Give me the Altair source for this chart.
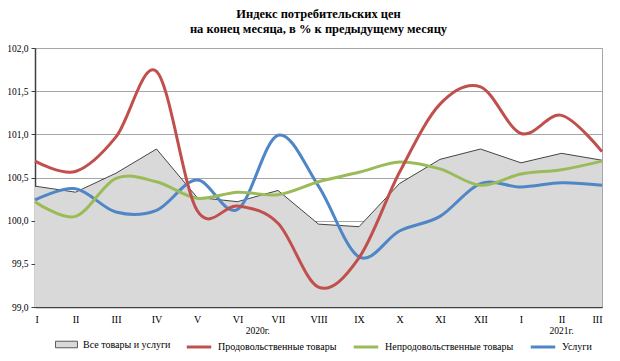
import altair as alt
import pandas as pd

months = ["I", "II", "III", "IV", "V", "VI", "VII", "VIII", "IX", "X", "XI", "XII", "I", "II", "III"]
series_names = ["Все товары и услуги", "Продовольственные товары", "Непродовольственные товары", "Услуги"]

all_goods = [100.40, 100.33, 100.55, 100.83, 100.27, 100.22, 100.35, 99.96, 99.93, 100.43, 100.71, 100.83, 100.67, 100.78, 100.70]
food = [100.69, 100.57, 100.97, 101.73, 100.12, 100.17, 99.97, 99.23, 99.57, 100.56, 101.35, 101.55, 101.01, 101.22, 100.80]
nonfood = [100.22, 100.05, 100.49, 100.45, 100.26, 100.33, 100.30, 100.45, 100.56, 100.68, 100.60, 100.41, 100.54, 100.59, 100.69]
services = [100.24, 100.37, 100.10, 100.12, 100.47, 100.13, 100.99, 100.40, 99.58, 99.88, 100.05, 100.43, 100.39, 100.44, 100.41]

years = ["2020г.", "2021г."]
year_pos = [5.5, 13.0]

y_ticks = [99.0, 99.5, 100.0, 100.5, 101.0, 101.5, 102.0]

colors = ["#c0504d", "#9bbb59", "#4f86c6"]
FONT = "Liberation Serif"

rows = []
for name, vals in zip(series_names, [all_goods, food, nonfood, services]):
    for i, v in enumerate(vals):
        rows.append({"idx": i, "month": months[i], "series": name, "value": v})
df = pd.DataFrame(rows)

month_expr = "[" + ",".join("'%s'" % m for m in months) + "][datum.value]"

x_enc = alt.X("idx:Q", scale=alt.Scale(domain=[0, 14], nice=False, zero=False),
              axis=alt.Axis(values=list(range(15)), labelExpr=month_expr, title=None, grid=False,
                            ticks=False, labelPadding=7, domainColor="#404040", domainWidth=1.5,
                            labelFont=FONT, labelFontSize=10, labelColor="#000"))
y_enc = alt.Y("value:Q", scale=alt.Scale(domain=[99, 102], nice=False, zero=False),
              axis=alt.Axis(values=y_ticks, labelExpr="replace(format(datum.value, '.1f'), '.', ',')",
                            title=None, grid=True, gridColor="#a6a6a6", gridWidth=1,
                            tickSize=4, tickColor="#404040", labelPadding=3,
                            domainColor="#404040", domainWidth=1.5,
                            labelFont=FONT, labelFontSize=9.5, labelColor="#000"))

base = alt.Chart(df)

LEG_Y = 285

area = base.transform_filter(alt.datum.series == series_names[0]).mark_area(
    interpolate="linear", opacity=1
).encode(
    x=x_enc,
    y=y_enc,
    y2=alt.datum(99),
    fill=alt.Fill("series:N", scale=alt.Scale(domain=[series_names[0]], range=["#d9d9d9"]),
                  legend=alt.Legend(orient="none", legendX=20, legendY=LEG_Y, title=None,
                                    direction="horizontal",
                                    symbolType="M-1,-0.3H1V0.3H-1Z", symbolSize=480,
                                    symbolStrokeColor="#595959", symbolStrokeWidth=1,
                                    symbolOpacity=1,
                                    labelFont=FONT, labelFontSize=10, labelFontWeight="normal",
                                    labelColor="#000", labelOffset=5, padding=0)),
)

area_line = base.transform_filter(alt.datum.series == series_names[0]).mark_line(
    color="#1a1a1a", strokeWidth=0.8
).encode(x="idx:Q", y="value:Q")

stroke_scale = alt.Scale(domain=series_names[1:], range=colors)
stroke_legend = alt.Legend(orient="none", legendX=150, legendY=LEG_Y, title=None,
                           direction="horizontal", columns=3, gridAlign="none",
                           symbolType="stroke", symbolSize=600, symbolStrokeWidth=3,
                           labelFont=FONT, labelFontSize=10, labelFontWeight="normal",
                           labelColor="#000", labelOffset=5, columnPadding=10, padding=0,
                           labelLimit=300)

def series_line(name):
    return base.transform_filter(alt.datum.series == name).mark_line(
        interpolate="cardinal", strokeWidth=3
    ).encode(
        x="idx:Q",
        y="value:Q",
        stroke=alt.Stroke("series:N", scale=stroke_scale, legend=stroke_legend),
    )

year_df = pd.DataFrame({"year": years, "pos": year_pos})
year_text = alt.Chart(year_df).mark_text(font=FONT, fontSize=9.5, color="#000", baseline="middle").encode(
    x="pos:Q", y=alt.value(283), text="year:N"
)

chart = alt.layer(
    area, area_line,
    series_line(series_names[3]), series_line(series_names[2]), series_line(series_names[1]),
    year_text,
).properties(
    width=567, height=259,
    title=alt.TitleParams(["Индекс  потребительских  цен", "на  конец  месяца, в % к предыдущему  месяцу"],
                          font=FONT, fontSize=12.5, fontWeight="bold", color="#000",
                          anchor="middle", offset=8, lineHeight=15),
    autosize=alt.AutoSizeParams(type="none"),
    padding={"left": 27, "top": 40, "right": 10, "bottom": 46},
).configure(font=FONT).configure_legend(
    labelFont=FONT, labelFontWeight="normal", labelFontSize=10
).configure_view(stroke="#a6a6a6", strokeWidth=1)

chart.save("out.html", embed_options={"renderer": "svg", "actions": False})
